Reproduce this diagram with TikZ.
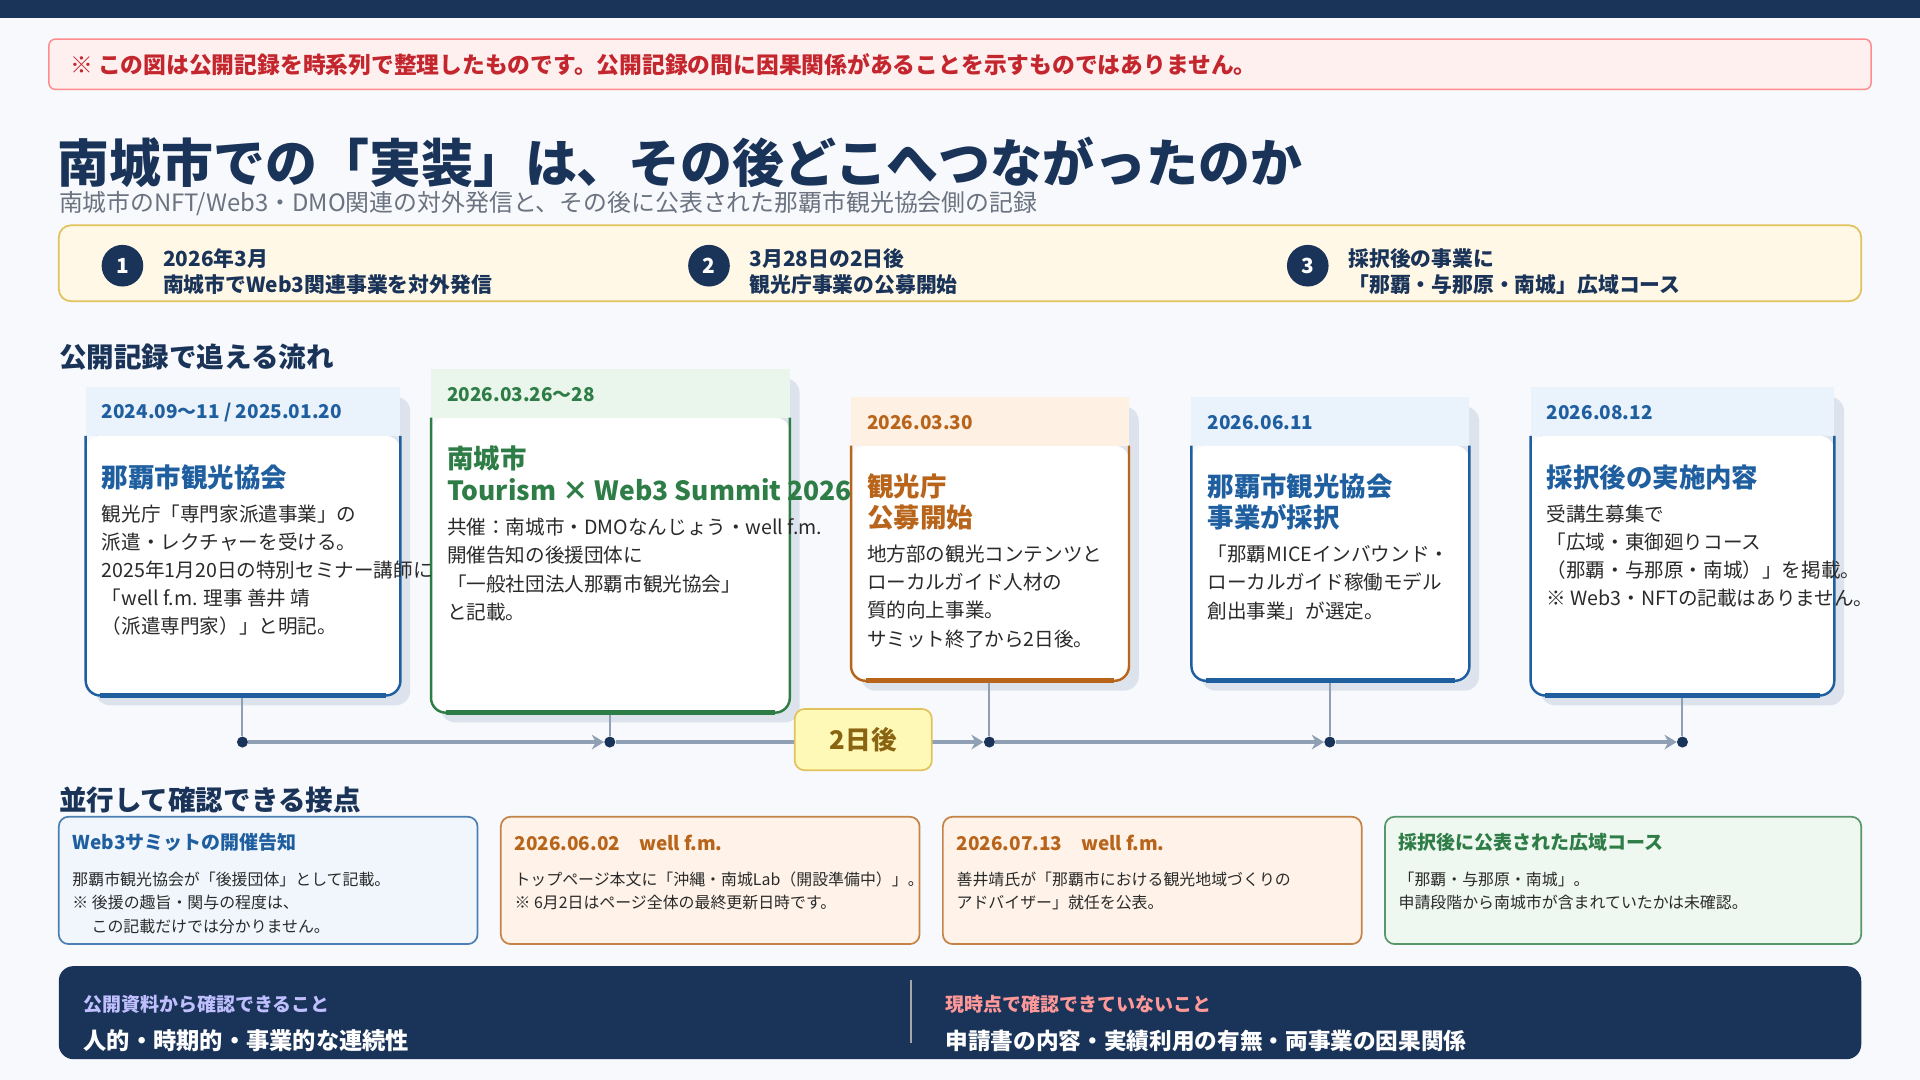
\documentclass[tikz,border=0pt]{standalone}
\usepackage{fontspec}
\setmainfont{Noto Sans CJK JP}
\usetikzlibrary{arrows.meta}
\definecolor{navy}{HTML}{1A3358}
\definecolor{bgc}{HTML}{F7F9FC}
\definecolor{cblue}{HTML}{1F5FA0}
\definecolor{lblue}{HTML}{EAF2FB}
\definecolor{cgreen}{HTML}{2E7D46}
\definecolor{lgreen}{HTML}{EAF5EC}
\definecolor{corange}{HTML}{B8641A}
\definecolor{lorange}{HTML}{FFF0E4}
\definecolor{tgray}{HTML}{6B7280}
\definecolor{lgray}{HTML}{8FA0B4}
\definecolor{shadowc}{HTML}{DDE3EC}
\definecolor{txt}{HTML}{2A2A2A}
\definecolor{cream}{HTML}{FFF8E6}
\definecolor{gold}{HTML}{E2C25C}
\definecolor{goldtxt}{HTML}{8A6410}
\definecolor{warnred}{HTML}{C4262E}
\tikzset{
  txtnode/.style={anchor=north west, inner sep=0pt, align=left, text=txt},
  date/.style={anchor=west, inner sep=0pt, font=\fontsize{15.5}{18}\selectfont\bfseries},
  ctitle/.style={anchor=north west, inner sep=0pt, align=left, font=\fontsize{21.6}{25}\selectfont\bfseries},
  cbody/.style={txtnode, font=\fontsize{16}{23}\selectfont},
  stepdot/.style={circle, fill=navy, text=white, minimum size=34pt, inner sep=0pt, font=\fontsize{17}{17}\selectfont\bfseries},
  steptext/.style={anchor=west, inner sep=0pt, align=left, text=navy, font=\fontsize{17}{21}\selectfont\bfseries},
  dot/.style={circle, fill=navy, inner sep=0pt, minimum size=9pt},
  tline/.style={lgray, line width=4pt},
  stem/.style={lgray, line width=1.6pt},
  subbox/.style={rounded corners=8pt, line width=1.4pt},
  subtitle/.style={anchor=west, inner sep=0pt, font=\fontsize{15.5}{18}\selectfont\bfseries},
  subbody/.style={txtnode, font=\fontsize{13}{19}\selectfont},
  section/.style={anchor=west, inner sep=0pt, text=navy, font=\fontsize{22.5}{26}\selectfont\bfseries}
}
% card: x1, x2, header top, body bottom, border colour, header colour
\newcommand{\tlcard}[6]{%
  \fill[shadowc, rounded corners=12pt] (#1+8,#3+8) rectangle (#2+8,#4+8);
  \fill[white, rounded corners=12pt] (#1,#3+40) rectangle (#2,#4);
  \fill[#6] (#1,#3) rectangle (#2,#3+40);
  \draw[#5, line width=2pt, rounded corners=12pt] (#1,#3+40) -- (#1,#4) -- (#2,#4) -- (#2,#3+40);
  \draw[#5, line width=4pt] (#1+12,#4) -- (#2-12,#4);
}
\begin{document}
\begin{tikzpicture}[x=1pt, y=-1pt]
\useasboundingbox (0,0) rectangle (1568,882);
\fill[bgc] (0,0) rectangle (1568,882);
\fill[navy] (0,0) rectangle (1568,15);

% notice
\draw[fill=red!6, draw=red!45, line width=1.2pt, rounded corners=5pt] (40,32) rectangle (1528,73);
\node[anchor=west, inner sep=0pt, text=warnred, font=\fontsize{18.6}{20}\selectfont\bfseries] (notice) at (57,53) {※ この図は公開記録を時系列で整理したものです。公開記録の間に因果関係があることを示すものではありません。};

% title
\node[anchor=west, inner sep=0pt, text=navy, font=\fontsize{42.4}{46}\selectfont\bfseries] (title) at (47,133) {南城市での「実装」は、その後どこへつながったのか};
\node[anchor=west, inner sep=0pt, text=tgray, font=\fontsize{19.5}{22}\selectfont] (subt) at (48,166) {南城市のNFT/Web3・DMO関連の対外発信と、その後に公表された那覇市観光協会側の記録};

% steps
\draw[fill=cream, draw=gold, line width=1.4pt, rounded corners=10pt] (48,184) rectangle (1520,246);
\node[stepdot] (s1) at (100,217) {1};
\node[steptext] (s1t) at (133,222) {2026年3月\\南城市でWeb3関連事業を対外発信};
\node[stepdot] (s2) at (579,217) {2};
\node[steptext] (s2t) at (612,222) {3月28日の2日後\\観光庁事業の公募開始};
\node[stepdot] (s3) at (1068,217) {3};
\node[steptext] (s3t) at (1101,222) {採択後の事業に\\「那覇・与那原・南城」広域コース};

\node[section] (sec1) at (48,292) {公開記録で追える流れ};

% cards
\tlcard{70}{327}{316}{568}{cblue}{lblue}
\tlcard{352}{645}{301}{582}{cgreen}{lgreen}
\tlcard{695}{922}{324}{556}{corange}{lorange}
\tlcard{973}{1200}{324}{556}{cblue}{lblue}
\tlcard{1250}{1498}{316}{568}{cblue}{lblue}

\node[date, text=cblue] (d1) at (83,337) {2024.09〜11 / 2025.01.20};
\node[ctitle, text=cblue] (t1) at (83,379) {那覇市観光協会};
\node[cbody] (b1) at (83,412) {観光庁「専門家派遣事業」の\\派遣・レクチャーを受ける。\\2025年1月20日の特別セミナー講師に\\「well f.m. 理事 善井 靖\\（派遣専門家）」と明記。};

\node[date, text=cgreen] (d2) at (365,322) {2026.03.26〜28};
\node[ctitle, text=cgreen, font=\fontsize{21.6}{26}\selectfont\bfseries] (t2) at (365,364) {南城市\\Tourism × Web3 Summit 2026};
\node[cbody] (b2) at (365,423) {共催：南城市・DMOなんじょう・well f.m.\\開催告知の後援団体に\\「一般社団法人那覇市観光協会」\\と記載。};

\node[date, text=corange] (d3) at (708,345) {2026.03.30};
\node[ctitle, text=corange] (t3) at (708,387) {観光庁\\公募開始};
\node[cbody] (b3) at (708,445) {地方部の観光コンテンツと\\ローカルガイド人材の\\質的向上事業。\\サミット終了から2日後。};

\node[date, text=cblue] (d4) at (986,345) {2026.06.11};
\node[ctitle, text=cblue] (t4) at (986,387) {那覇市観光協会\\事業が採択};
\node[cbody] (b4) at (986,445) {「那覇MICEインバウンド・\\ローカルガイド稼働モデル\\創出事業」が選定。};

\node[date, text=cblue] (d5) at (1263,337) {2026.08.12};
\node[ctitle, text=cblue] (t5) at (1263,379) {採択後の実施内容};
\node[cbody] (b5) at (1263,412) {受講生募集で\\「広域・東御廻りコース\\（那覇・与那原・南城）」を掲載。\\※ Web3・NFTの記載はありません。};

% timeline
\node[dot] (p1) at (198,606) {};
\node[dot] (p2) at (498,606) {};
\node[dot] (p3) at (808,606) {};
\node[dot] (p4) at (1086,606) {};
\node[dot] (p5) at (1374,606) {};
\coordinate (c1) at (198,570);
\coordinate (c2) at (498,584);
\coordinate (c3) at (808,558);
\coordinate (c4) at (1086,558);
\coordinate (c5) at (1374,570);
\foreach \i in {1,...,5} \draw[stem] (c\i) -- (p\i);
\draw[tline, -{Stealth[length=10pt,width=12pt]}] (p1) -- (p2);
\draw[tline, -{Stealth[length=10pt,width=12pt]}] (p2) -- (p3);
\draw[tline, -{Stealth[length=10pt,width=12pt]}] (p3) -- (p4);
\draw[tline, -{Stealth[length=10pt,width=12pt]}] (p4) -- (p5);
\node[draw=gold, fill=cream!80!yellow, line width=1.4pt, rounded corners=8pt, minimum width=112pt, minimum height=50pt, text=goldtxt, font=\fontsize{21}{24}\selectfont\bfseries] (gap) at (705,604) {2日後};

\node[section] (sec2) at (48,653) {並行して確認できる接点};

% parallel records
\draw[subbox, draw=cblue!80, fill=lblue!70] (48,667) rectangle (390,771);
\node[subtitle, text=cblue] (r1t) at (59,688) {Web3サミットの開催告知};
\node[subbody] (r1b) at (59,712) {那覇市観光協会が「後援団体」として記載。\\※ 後援の趣旨・関与の程度は、\\\hspace*{1.2em}この記載だけでは分かりません。};
\draw[subbox, draw=corange!80, fill=lorange!80] (409,667) rectangle (751,771);
\node[subtitle, text=corange] (r2t) at (420,688) {2026.06.02\quad well f.m.};
\node[subbody] (r2b) at (420,712) {トップページ本文に「沖縄・南城Lab（開設準備中）」。\\※ 6月2日はページ全体の最終更新日時です。};
\draw[subbox, draw=corange!80, fill=lorange!80] (770,667) rectangle (1112,771);
\node[subtitle, text=corange] (r3t) at (781,688) {2026.07.13\quad well f.m.};
\node[subbody] (r3b) at (781,712) {善井靖氏が「那覇市における観光地域づくりの\\アドバイザー」就任を公表。};
\draw[subbox, draw=cgreen!80, fill=lgreen!80] (1131,667) rectangle (1520,771);
\node[subtitle, text=cgreen] (r4t) at (1142,688) {採択後に公表された広域コース};
\node[subbody] (r4b) at (1142,712) {「那覇・与那原・南城」。\\申請段階から南城市が含まれていたかは未確認。};

% summary band
\fill[navy, rounded corners=12pt] (48,789) rectangle (1520,865);
\draw[gray!70, line width=1pt] (744,800) -- (744,852);
\node[anchor=west, inner sep=0pt, text=blue!25!white, font=\fontsize{15.5}{18}\selectfont\bfseries] (k1) at (68,820) {公開資料から確認できること};
\node[anchor=west, inner sep=0pt, text=white, font=\fontsize{19}{22}\selectfont\bfseries] (k1v) at (68,850) {人的・時期的・事業的な連続性};
\node[anchor=west, inner sep=0pt, text=red!40!white, font=\fontsize{15.5}{18}\selectfont\bfseries] (k2) at (772,820) {現時点で確認できていないこと};
\node[anchor=west, inner sep=0pt, text=white, font=\fontsize{18.5}{22}\selectfont\bfseries] (k2v) at (772,850) {申請書の内容・実績利用の有無・両事業の因果関係};
\end{tikzpicture}
\end{document}
